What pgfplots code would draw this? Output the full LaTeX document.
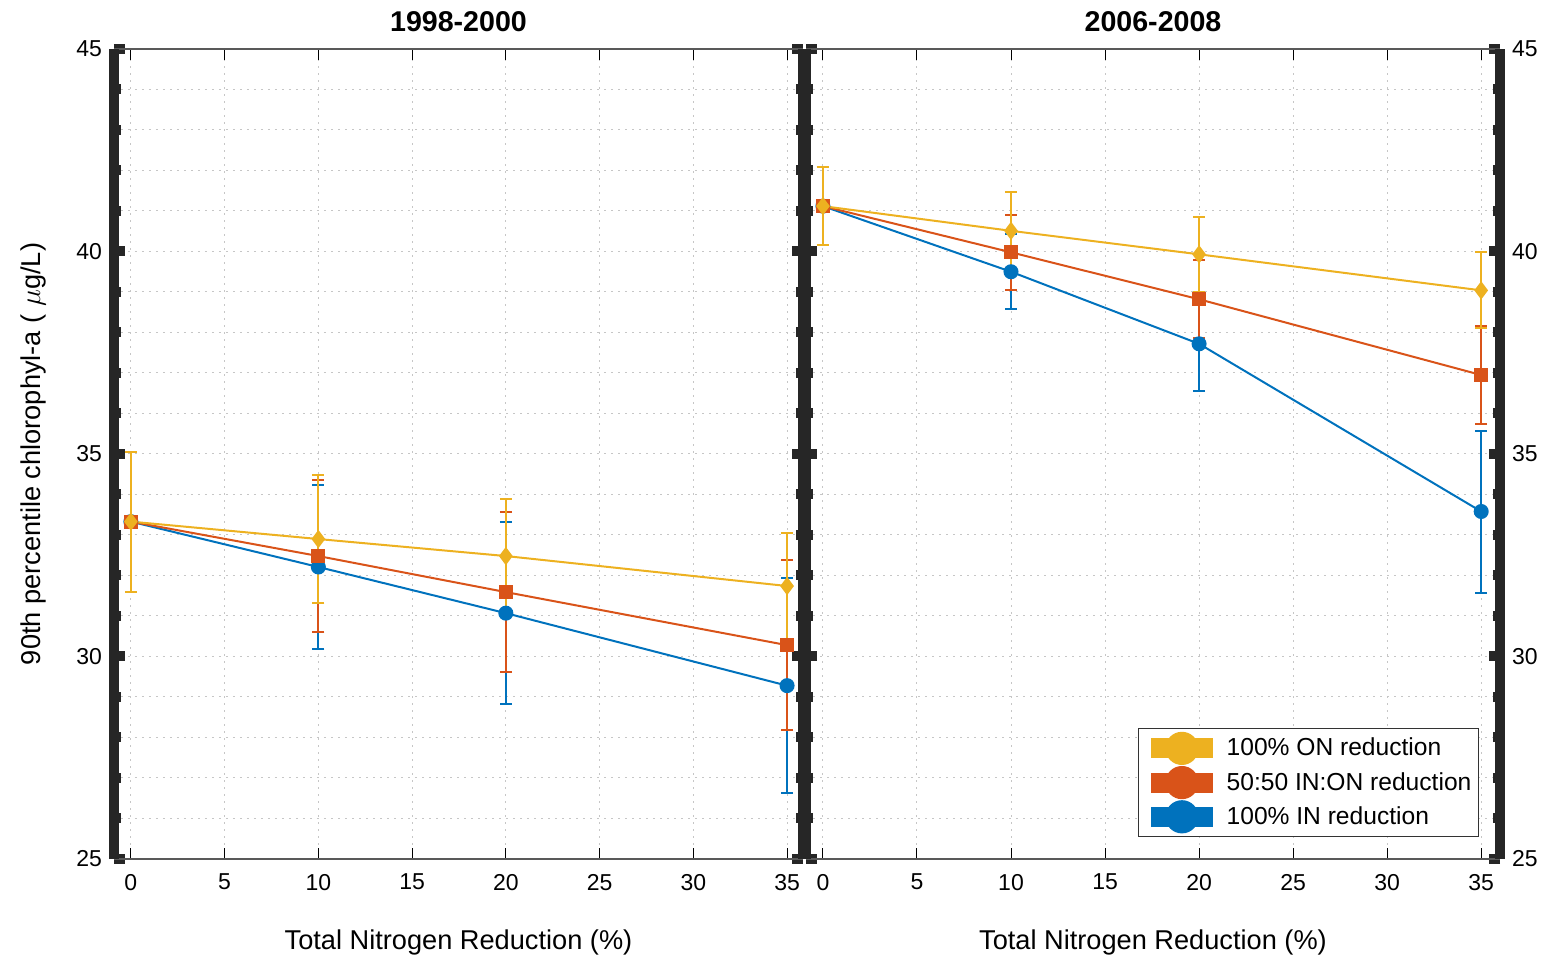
\documentclass[border=0pt]{standalone}
\usepackage{pgfplots}
\pgfplotsset{compat=1.18}
\usepackage{fontspec}
\setmainfont{Liberation Sans}

\definecolor{cblue}{rgb}{0,0.447,0.741}
\definecolor{corange}{rgb}{0.85,0.325,0.098}
\definecolor{cyellow}{rgb}{0.929,0.694,0.125}
\definecolor{spine}{rgb}{0.15,0.15,0.15}

\pgfplotsset{
  panel/.style={
    scale only axis, height=405pt,
    ymin=25, ymax=45, ytick={25,30,...,45}, minor y tick num=4,
    xmin=-0.9, xtick={0,5,...,35},
    separate axis lines,
    x axis line style={black!65, line width=0.6pt},
    y axis line style={spine, line width=5pt},
    tick align=inside,
    major tick length=5.5pt, minor tick length=3.5pt,
    xtick style={black, line width=0.5pt},
    ytick style={spine, line width=5pt},
    grid=both,
    major grid style={gray!45, line width=0.5pt, dash pattern=on 1pt off 2.5pt},
    minor grid style={gray!45, line width=0.5pt, dash pattern=on 1pt off 2.5pt},
    tick label style={font=\fontsize{11.5}{13}\selectfont},
    /pgf/number format/assume math mode=true,
    xticklabel shift=4pt, yticklabel shift=2.5pt,
    label style={font=\fontsize{13.6}{16}\selectfont},
    xlabel={Total Nitrogen Reduction (\%)},
    xlabel style={at={([yshift=-41.5pt]axis description cs:0.5,0)}, anchor=center},
    title style={font=\bfseries\fontsize{14.3}{17}\selectfont,
      at={([yshift=7.5pt]axis description cs:0.5,1)}, anchor=center},
    clip=false,
  },
  ser/.style={#1, line width=1pt,
    mark options={solid, fill=#1, draw=#1},
    error bars/y dir=both, error bars/y explicit,
    error bars/error bar style={line width=1pt, #1},
    error bars/error mark options={rotate=90, mark size=3pt, line width=1pt, #1}},
  legimg/.style={legend image code/.code={
    \draw[line width=10pt, #1] (0pt,0pt) -- (30.7pt,0pt);
    \fill[#1] (15.35pt,0pt) circle (7.8pt);}},
}

\begin{document}
\begin{tikzpicture}
% left: 1998-2000
\begin{axis}[panel, width=344.5pt, xmax=35.85,
  title={1998-2000},
  ylabel={90th percentile chlorophyl-a ( $\mu$g/L)},
  ylabel style={at={([xshift=-40.5pt]axis description cs:0,0.5)}, anchor=center},
]
\addplot[ser=cblue, mark=*, mark size=3.25pt] coordinates {
  (0,33.33) +- (0,1.73) (10,32.21) +- (0,2.02) (20,31.07) +- (0,2.25) (35,29.28) +- (0,2.65)};
\addplot[ser=corange, mark=square*, mark size=3pt] coordinates {
  (0,33.33) +- (0,1.73) (10,32.48) +- (0,1.88) (20,31.59) +- (0,1.97) (35,30.28) +- (0,2.10)};
\addplot[ser=cyellow, mark=diamond*, mark size=3.75pt] coordinates {
  (0,33.33) +- (0,1.73) (10,32.90) +- (0,1.57) (20,32.48) +- (0,1.42) (35,31.74) +- (0,1.32)};
\end{axis}
% right: 2006-2008
\begin{axis}[panel, at={(346pt,0pt)}, anchor=south west, width=347pt, xmax=36.0,
  title={2006-2008},
  yticklabel pos=right,
  reverse legend,
  legend style={at={(1,0)}, anchor=south east, xshift=-10.5pt, yshift=11pt,
    font=\fontsize{12.3}{14}\selectfont, draw=black!80, line width=0.6pt,
    inner sep=1.5pt, row sep=0.5pt, cells={anchor=west},
    /tikz/every even column/.append style={column sep=0pt}},
]
\addplot[ser=cblue, mark=*, mark size=3.25pt, legimg=cblue] coordinates {
  (0,41.12) +- (0,0.97) (10,39.50) +- (0,0.93) (20,37.72) +- (0,1.16) (35,33.58) +- (0,2.00)};
\addlegendentry{100\% IN reduction}
\addplot[ser=corange, mark=square*, mark size=3pt, legimg=corange] coordinates {
  (0,41.12) +- (0,0.97) (10,39.98) +- (0,0.93) (20,38.82) +- (0,0.96) (35,36.95) +- (0,1.20)};
\addlegendentry{50:50 IN:ON reduction}
\addplot[ser=cyellow, mark=diamond*, mark size=3.75pt, legimg=cyellow] coordinates {
  (0,41.12) +- (0,0.97) (10,40.51) +- (0,0.95) (20,39.93) +- (0,0.93) (35,39.04) +- (0,0.94)};
\addlegendentry{100\% ON reduction}
\end{axis}
\pgfresetboundingbox
\path[use as bounding box] (-57pt,-49pt) rectangle (717pt,429.5pt);
\end{tikzpicture}
\end{document}
